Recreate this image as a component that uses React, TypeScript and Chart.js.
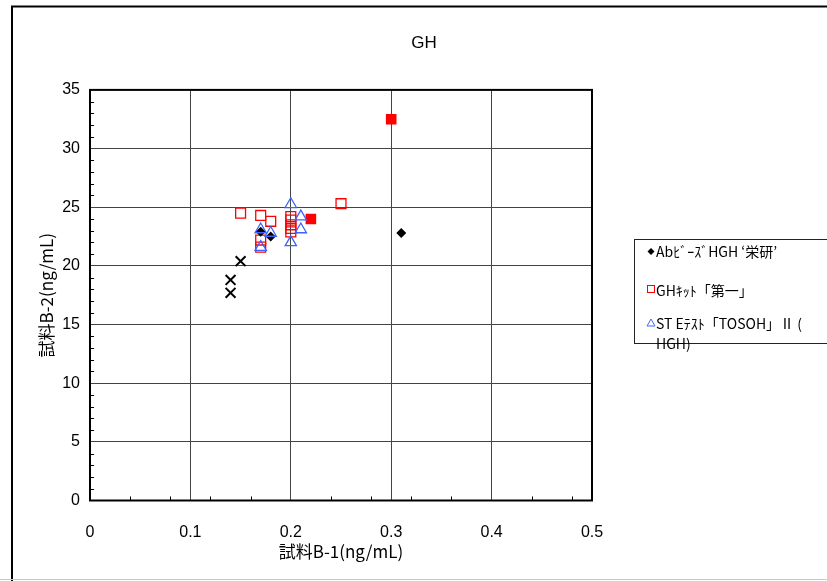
import React, { useEffect, useRef } from "react";
import { Chart, registerables } from "chart.js";

Chart.register(...registerables);

const chartTitle = "GH";
const xAxisTitle = "試料B-1(ng/mL)";
const yAxisTitle = "試料B-2(ng/mL)";
const xTickLabels = ["0", "0.1", "0.2", "0.3", "0.4", "0.5"];
const yTickLabels = ["0", "5", "10", "15", "20", "25", "30", "35"];

const abLabel = "AbﾋﾞｰｽﾞHGH ‘栄研’";
const abX = [0.17, 0.18, 0.31];
const abY = [22.9, 22.5, 22.8];

const kitLabel = "GHｷｯﾄ「第一」";
const kitX = [0.15, 0.17, 0.18, 0.17, 0.17, 0.2, 0.2, 0.2, 0.2, 0.2, 0.25];
const kitY = [24.5, 24.3, 23.8, 22.2, 21.6, 24.2, 23.9, 23.5, 23.2, 22.9, 25.3];

const stLabel = "ST Eﾃｽﾄ「TOSOH」Ⅱ (";
const stLabel2 = "HGH)";
const stX = [0.2, 0.21, 0.21, 0.2, 0.17, 0.17, 0.18];
const stY = [25.25, 24.2, 23.1, 22.0, 21.6, 23.1, 22.8];

const crossX = [0.15, 0.14, 0.14];
const crossY = [20.4, 18.8, 17.7];

const filledX = [0.22, 0.3];
const filledY = [24.0, 32.5];

const toPoints = (xs: number[], ys: number[]) => xs.map((x, i) => ({ x, y: ys[i] }));

const decorPlugin = {
  id: "decor",
  beforeDraw(chart: any) {
    const ctx = chart.ctx;
    ctx.save();
    ctx.fillStyle = "#fff";
    ctx.fillRect(0, 0, chart.width, chart.height);
    ctx.restore();
  },
  afterDraw(chart: any) {
    const ctx = chart.ctx;
    const { left, right, top, bottom } = chart.chartArea;
    const xs = chart.scales.x;
    const ys = chart.scales.y;
    ctx.save();
    // chart title
    ctx.fillStyle = "#000";
    ctx.font = '17px "Liberation Sans"';
    ctx.textAlign = "center";
    ctx.textBaseline = "middle";
    ctx.fillText(chartTitle, 424, 43);
    // outer frame
    ctx.strokeStyle = "#000";
    ctx.lineWidth = 2;
    ctx.beginPath();
    ctx.moveTo(12, 581);
    ctx.lineTo(12, 6.5);
    ctx.lineTo(830, 6.5);
    ctx.stroke();
    ctx.strokeStyle = "#c8c8c8";
    ctx.lineWidth = 1;
    ctx.beginPath();
    ctx.moveTo(0, 579.5);
    ctx.lineTo(830, 579.5);
    ctx.stroke();
    // plot border
    ctx.strokeStyle = "#000";
    ctx.lineWidth = 2;
    ctx.strokeRect(left, top, right - left, bottom - top);
    // minor ticks
    ctx.lineWidth = 1;
    ctx.strokeStyle = "#000";
    ctx.beginPath();
    for (let v = 1; v < 35; v++) {
      if (v % 5 === 0) continue;
      const py = Math.round(ys.getPixelForValue(v)) + 0.5;
      ctx.moveTo(left, py);
      ctx.lineTo(left + 4, py);
    }
    for (let k = 1; k < 13; k++) {
      const v = k * 0.04;
      if (Math.abs(v * 10 - Math.round(v * 10)) < 1e-6) continue;
      const px = Math.round(xs.getPixelForValue(v)) + 0.5;
      ctx.moveTo(px, bottom);
      ctx.lineTo(px, bottom - 4);
    }
    ctx.stroke();
    // legend
    const lx = 634.5, ly = 239.5;
    ctx.strokeStyle = "#222";
    ctx.lineWidth = 1;
    ctx.strokeRect(lx, ly, 200, 104);
    ctx.font = '14px "Noto Sans CJK JP"';
    ctx.textBaseline = "middle";
    ctx.textAlign = "left";
    ctx.fillStyle = "#000";
    const mx = 651;
    ctx.beginPath();
    ctx.moveTo(mx, 248);
    ctx.lineTo(mx + 3.5, 251.5);
    ctx.lineTo(mx, 255);
    ctx.lineTo(mx - 3.5, 251.5);
    ctx.closePath();
    ctx.fill();
    ctx.fillText(abLabel, 656, 252);
    ctx.strokeStyle = "#ff0000";
    ctx.lineWidth = 1;
    ctx.strokeRect(647.5, 285.5, 7, 7);
    ctx.fillText(kitLabel, 656, 291);
    ctx.strokeStyle = "#4466ff";
    ctx.beginPath();
    ctx.moveTo(mx, 319);
    ctx.lineTo(mx + 4, 326);
    ctx.lineTo(mx - 4, 326);
    ctx.closePath();
    ctx.stroke();
    ctx.fillText(stLabel, 656, 324);
    ctx.fillText(stLabel2, 656, 344);
    ctx.restore();
  },
};

export default function App() {
  const ref = useRef<HTMLCanvasElement | null>(null);
  useEffect(() => {
    if (!ref.current) return;
    const chart = new Chart(ref.current, {
      type: "scatter",
      data: {
        datasets: [
          {
            label: stLabel + stLabel2,
            data: toPoints(stX, stY),
            pointStyle: "triangle",
            pointRadius: 6.5,
            pointBorderWidth: 1.3,
            borderColor: "#3a63ff",
            pointBorderColor: "#3a63ff",
            backgroundColor: "rgba(0,0,0,0)",
            pointBackgroundColor: "rgba(0,0,0,0)",
            order: 0,
          },
          {
            label: abLabel,
            data: toPoints(abX, abY),
            pointStyle: "rectRot",
            pointRadius: 5,
            pointBorderWidth: 0,
            borderColor: "#000",
            pointBackgroundColor: "#000",
            backgroundColor: "#000",
            order: 1,
          },
          {
            label: kitLabel,
            data: toPoints(kitX, kitY),
            pointStyle: "rect",
            pointRadius: 7,
            pointBorderWidth: 1.3,
            borderColor: "#ff0000",
            pointBorderColor: "#ff0000",
            backgroundColor: "rgba(0,0,0,0)",
            pointBackgroundColor: "rgba(0,0,0,0)",
            order: 2,
          },
          {
            label: "x",
            data: toPoints(crossX, crossY),
            pointStyle: "crossRot",
            pointRadius: 7,
            pointBorderWidth: 2,
            borderColor: "#000",
            pointBorderColor: "#000",
            order: 3,
          },
          {
            label: "filled",
            data: toPoints(filledX, filledY),
            pointStyle: "rect",
            pointRadius: 7.5,
            pointBorderWidth: 0,
            borderColor: "#ff0000",
            pointBackgroundColor: "#ff0000",
            backgroundColor: "#ff0000",
            order: 4,
          },
        ],
      },
      options: {
        animation: false,
        responsive: false,
        maintainAspectRatio: false,
        layout: { padding: { left: 0, right: 235, top: 0, bottom: 0 } },
        plugins: {
          legend: { display: false },
          tooltip: { enabled: false },
          title: {
            display: true,
            text: chartTitle,
            color: "rgba(0,0,0,0)",
            font: { family: '"Liberation Sans"', size: 17, weight: "normal" },
            padding: { top: 32, bottom: 37.5 },
          },
        },
        scales: {
          x: {
            type: "linear",
            min: 0,
            max: 0.5,
            afterFit: (s: any) => {
              s.height = 80.5;
            },
            ticks: {
              stepSize: 0.1,
              padding: 22,
              color: "#000",
              font: { family: '"Liberation Sans"', size: 16 },
              callback: (_v: any, i: number) => xTickLabels[i],
            },
            grid: { color: "#444", lineWidth: 1, drawTicks: false },
            border: { display: false },
            title: {
              display: true,
              text: xAxisTitle,
              color: "#000",
              font: { family: '"Noto Sans CJK JP"', size: 17 },
              padding: { top: 0, bottom: 19 },
            },
          },
          y: {
            type: "linear",
            min: 0,
            max: 35,
            afterFit: (s: any) => {
              s.width = 90;
            },
            ticks: {
              stepSize: 5,
              padding: 10,
              color: "#000",
              font: { family: '"Liberation Sans"', size: 16 },
              callback: (_v: any, i: number) => yTickLabels[i],
            },
            grid: { color: "#444", lineWidth: 1, drawTicks: false },
            border: { display: false },
            title: {
              display: true,
              text: yAxisTitle,
              color: "#000",
              font: { family: '"Noto Sans CJK JP"', size: 17 },
              padding: { top: 36, bottom: 0 },
            },
          },
        },
      },
      plugins: [decorPlugin],
    });
    return () => chart.destroy();
  }, []);
  return (
    <div style={{ position: "absolute", left: 0, top: 0, width: 827, height: 581 }}>
      <canvas ref={ref} width={827} height={581} style={{ width: 827, height: 581 }} />
    </div>
  );
}
